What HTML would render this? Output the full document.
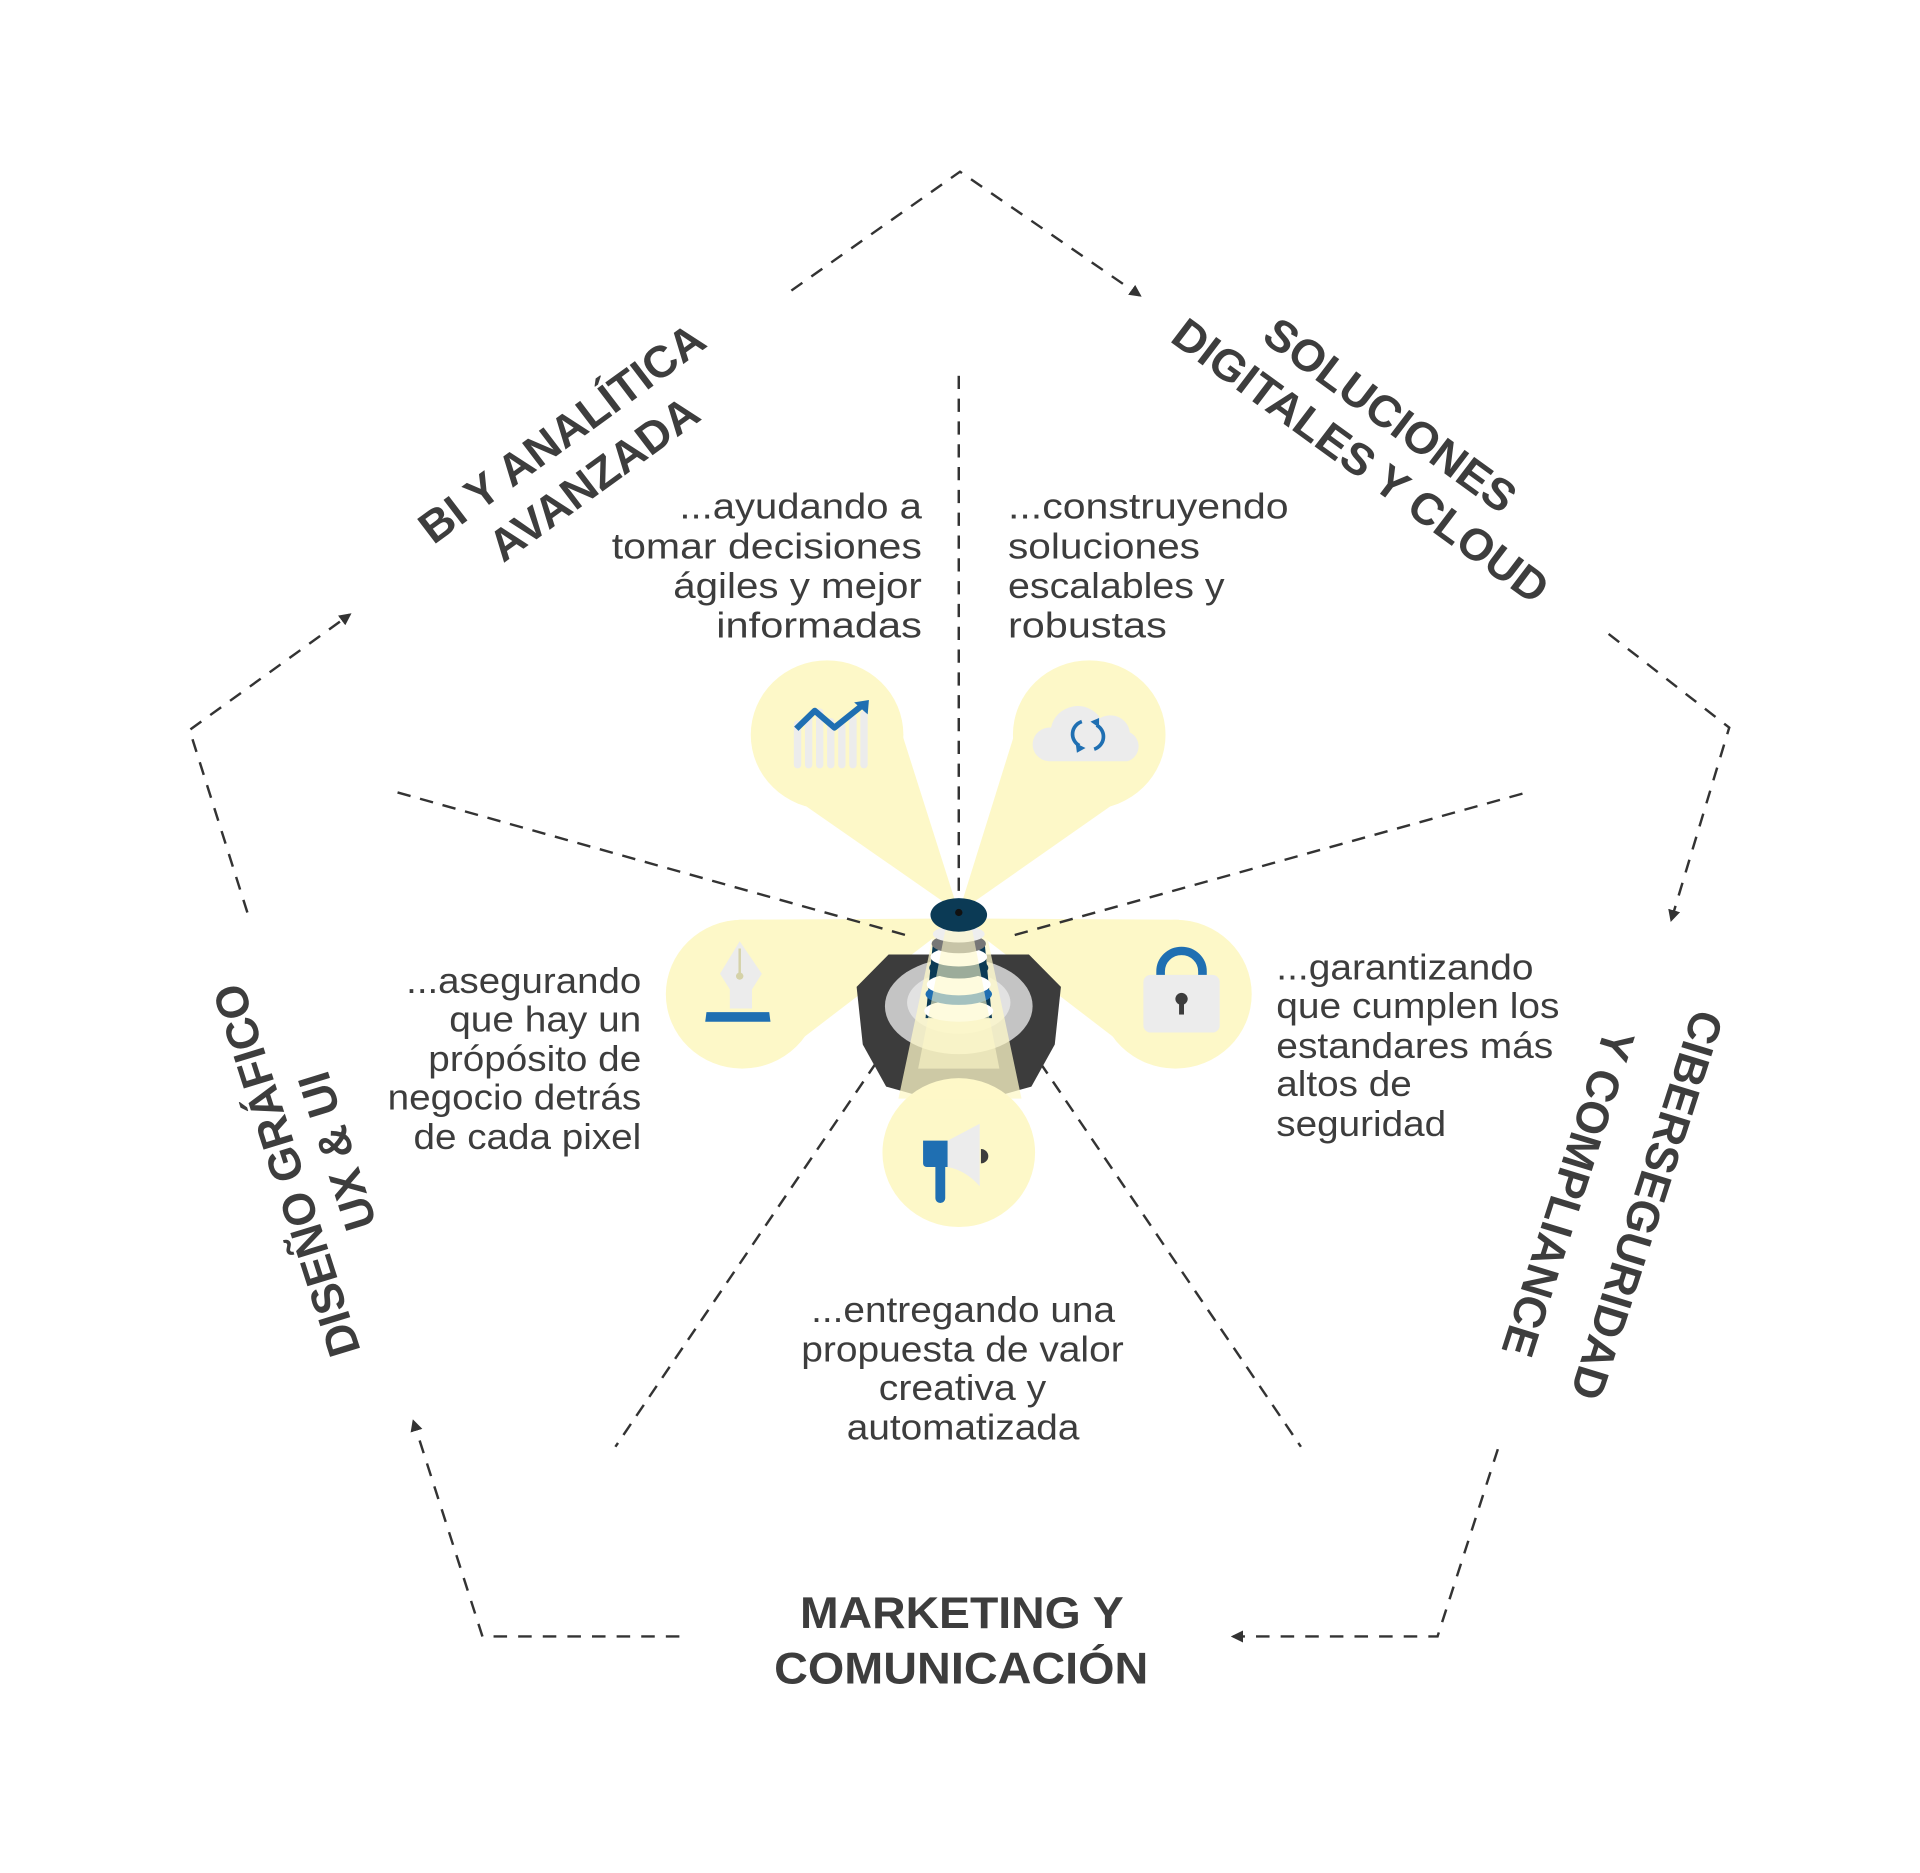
<!DOCTYPE html>
<html><head><meta charset="utf-8"><style>
html,body{margin:0;padding:0;background:#fff;}
svg{display:block;}
text{font-family:"Liberation Sans",sans-serif;fill:#3d3d3d;}
.b{font-weight:bold;font-size:37px;}
.t{font-size:30px;}
</style></head><body>
<svg width="1920" height="1873" viewBox="0 0 1560 1560" preserveAspectRatio="none" xmlns="http://www.w3.org/2000/svg">
<defs>
<marker id="ar" viewBox="0 0 10 10" refX="8" refY="5" markerWidth="5" markerHeight="5" orient="auto"><path d="M0,0L10,5L0,10z" fill="#333"/></marker>
</defs>
<g fill="none" stroke="#333" stroke-width="2" stroke-dasharray="11,9">
<polyline points="643,242 780,143 926,246" marker-end="url(#ar)"/>
<polyline points="1307,528 1405,606 1358,766" marker-end="url(#ar)"/>
<polyline points="1217,1207 1168,1363 1002,1363" marker-end="url(#ar)"/>
<polyline points="552,1363 392,1363 336,1184" marker-end="url(#ar)"/>
<polyline points="201,760 154,608 284,512" marker-end="url(#ar)"/>
</g>
<g fill="#fdf8c8">
<circle cx="672" cy="612" r="62"/><polygon points="779,760 722,576 622,648"/>
<circle cx="885" cy="612" r="62"/><polygon points="779,760 935,648 835,576"/>
<circle cx="603" cy="828" r="62"/><polygon points="779,765 625,886 600,766"/>
<circle cx="955" cy="828" r="62"/><polygon points="779,765 933,886 958,766"/>
</g>
<g fill="none" stroke="#333" stroke-width="2" stroke-dasharray="11,8">
<line x1="779" y1="313" x2="779" y2="745"/>
<line x1="323" y1="660" x2="740" y2="780"/>
<line x1="1237" y1="661" x2="820" y2="780"/>
<line x1="712" y1="885" x2="500" y2="1205"/>
<line x1="845" y1="885" x2="1057" y2="1205"/>
</g>
<polygon points="722,795 836,795 862,822 857,870 838,905 800,916 758,916 720,905 701,870 696,822" fill="#3c3c3c"/>
<ellipse cx="779" cy="838" rx="60" ry="40" fill="#c4c4c4"/>
<ellipse cx="779" cy="835" rx="42" ry="26" fill="#e2e2e2"/>
<circle cx="779" cy="960" r="62" fill="#fdf8c8"/>
<polygon points="760,770 800,770 830,915 730,915" fill="#fdf8c8" opacity="0.75"/>
<g>
<path d="M752,848 L758,785 L800,785 L806,848 Z" fill="#0b3a55"/>
<ellipse cx="779" cy="842" rx="28" ry="9" fill="#fff"/>
<ellipse cx="779" cy="828" rx="27" ry="9" fill="#1f6fb2"/>
<ellipse cx="779" cy="820" rx="26" ry="9" fill="#fff"/>
<ellipse cx="779" cy="806" rx="24" ry="9" fill="#0b3a55"/>
<ellipse cx="779" cy="797" rx="23" ry="8" fill="#fff"/>
<ellipse cx="779" cy="786" rx="22" ry="8" fill="#777"/>
<ellipse cx="779" cy="778" rx="21" ry="7" fill="#eee"/>
<polygon points="768,775 790,775 812,890 746,890" fill="#fdf8c8" opacity="0.6"/>
<ellipse cx="779" cy="762" rx="23" ry="14" fill="#0b3a55"/>
<circle cx="779" cy="760" r="3" fill="#111"/>
</g>
<g fill="#ececec">
<rect x="645" y="600" width="6" height="40" rx="3"/><rect x="654" y="595" width="6" height="45" rx="3"/>
<rect x="663" y="590" width="6" height="50" rx="3"/><rect x="672" y="598" width="6" height="42" rx="3"/>
<rect x="681" y="602" width="6" height="38" rx="3"/><rect x="690" y="596" width="6" height="44" rx="3"/>
<rect x="699" y="592" width="6" height="48" rx="3"/>
</g>
<polyline points="647,607 662,592 678,606 700,588" fill="none" stroke="#1f6fb2" stroke-width="5" stroke-linejoin="round"/>
<polygon points="694,585 706,583 705,595" fill="#1f6fb2"/>
<path d="M852,634 a14,14 0 0 1 2,-28 a22,22 0 0 1 40,-8 a16,16 0 0 1 24,12 a13,13 0 0 1 -2,24 z" fill="#ececec"/>
<path d="M879,601 a11,11 0 0 0 -2,20 M889,624 a11,11 0 0 0 2,-20" fill="none" stroke="#1f6fb2" stroke-width="3"/>
<polygon points="874,619 882,623 875,627" fill="#1f6fb2"/><polygon points="893,606 886,601 893,598" fill="#1f6fb2"/>
<path d="M601,784 L585,811 L593,824 L593,840 L611,840 L611,824 L619,811 Z" fill="#ececec"/>
<line x1="601" y1="790" x2="601" y2="812" stroke="#d5d2a8" stroke-width="2"/>
<circle cx="601" cy="813" r="3" fill="#d5d2a8"/>
<polygon points="574,843 625,843 626,851 573,851" fill="#1f6fb2"/>
<path d="M943,815 v-6 a17,17 0 0 1 34,0 v6" fill="none" stroke="#1f6fb2" stroke-width="7"/>
<rect x="929" y="812" width="62" height="48" rx="6" fill="#ececec"/>
<circle cx="960" cy="832" r="5" fill="#3c3c3c"/><rect x="958" y="833" width="4" height="12" fill="#3c3c3c"/>
<path d="M750,950 h20 v22 h-2 v26 a3,3 0 0 1 -8,0 v-26 h-7 a3,3 0 0 1 -3,-3 z" fill="#1f6fb2"/>
<path d="M770,950 L796,936 L796,988 Q785,975 770,972 z" fill="#ececec"/>
<path d="M797,957 a6,6 0 0 1 0,12 z" fill="#3c3c3c"/>
<g class="t">
<text x="749" y="432" text-anchor="end" textLength="197" lengthAdjust="spacingAndGlyphs">...ayudando a</text>
<text x="749" y="465" text-anchor="end" textLength="252" lengthAdjust="spacingAndGlyphs">tomar decisiones</text>
<text x="749" y="498" text-anchor="end" textLength="202" lengthAdjust="spacingAndGlyphs">ágiles y mejor</text>
<text x="749" y="531" text-anchor="end" textLength="167" lengthAdjust="spacingAndGlyphs">informadas</text>
<text x="819" y="432" textLength="228" lengthAdjust="spacingAndGlyphs">...construyendo</text>
<text x="819" y="465" textLength="156" lengthAdjust="spacingAndGlyphs">soluciones</text>
<text x="819" y="498" textLength="176" lengthAdjust="spacingAndGlyphs">escalables y</text>
<text x="819" y="531" textLength="129" lengthAdjust="spacingAndGlyphs">robustas</text>
<text x="521" y="827" text-anchor="end" textLength="191" lengthAdjust="spacingAndGlyphs">...asegurando</text>
<text x="521" y="859" text-anchor="end" textLength="156" lengthAdjust="spacingAndGlyphs">que hay un</text>
<text x="521" y="892" text-anchor="end" textLength="173" lengthAdjust="spacingAndGlyphs">própósito de</text>
<text x="521" y="924" text-anchor="end" textLength="206" lengthAdjust="spacingAndGlyphs">negocio detrás</text>
<text x="521" y="957" text-anchor="end" textLength="185" lengthAdjust="spacingAndGlyphs">de cada pixel</text>
<text x="1037" y="816" textLength="209" lengthAdjust="spacingAndGlyphs">...garantizando</text>
<text x="1037" y="848" textLength="230" lengthAdjust="spacingAndGlyphs">que cumplen los</text>
<text x="1037" y="881" textLength="225" lengthAdjust="spacingAndGlyphs">estandares más</text>
<text x="1037" y="913" textLength="110" lengthAdjust="spacingAndGlyphs">altos de</text>
<text x="1037" y="946" textLength="138" lengthAdjust="spacingAndGlyphs">seguridad</text>
<text x="659" y="1101" textLength="247" lengthAdjust="spacingAndGlyphs">...entregando una</text>
<text x="651" y="1134" textLength="262" lengthAdjust="spacingAndGlyphs">propuesta de valor</text>
<text x="714" y="1166" textLength="136" lengthAdjust="spacingAndGlyphs">creativa y</text>
<text x="688" y="1199" textLength="189" lengthAdjust="spacingAndGlyphs">automatizada</text>
</g>
<g class="b">
<text x="650" y="1356" textLength="263" lengthAdjust="spacingAndGlyphs">MARKETING Y</text>
<text x="629" y="1402" textLength="304" lengthAdjust="spacingAndGlyphs">COMUNICACIÓN</text>
<text transform="translate(464,371) rotate(-36.6)" text-anchor="middle">BI Y ANALÍTICA</text>
<text transform="translate(490,409) rotate(-36.6)" text-anchor="middle">AVANZADA</text>
<text transform="translate(1122,356) rotate(36.6)" text-anchor="middle">SOLUCIONES</text>
<text transform="translate(1098,394) rotate(36.6)" text-anchor="middle">DIGITALES Y CLOUD</text>
<text transform="translate(1326,1000) rotate(107.4)" text-anchor="middle">CIBERSEGURIDAD</text>
<text transform="translate(1262,990) rotate(107.4)" text-anchor="middle">Y COMPLIANCE</text>
<text transform="translate(245,971) rotate(-107.4)" text-anchor="middle">DISEÑO GRÁFICO</text>
<text transform="translate(286,955) rotate(-107.4)" text-anchor="middle">UX &amp; UI</text>
</g>
</svg>
</body></html>
